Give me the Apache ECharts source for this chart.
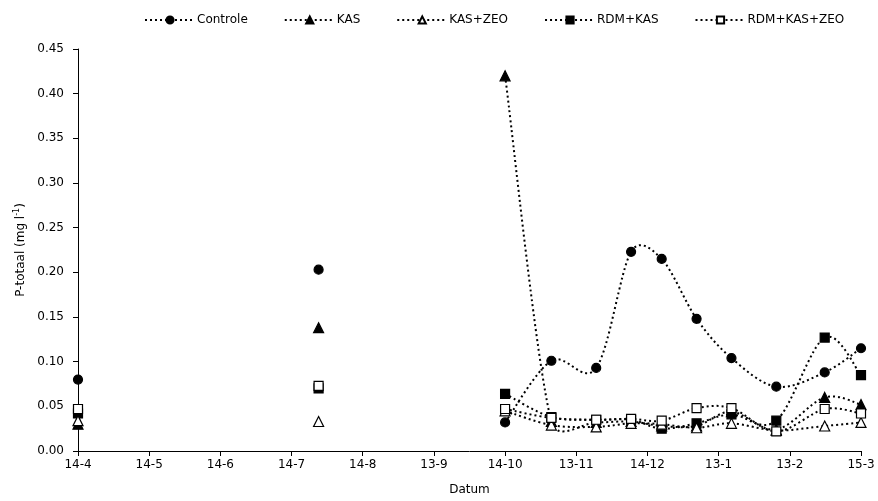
<!DOCTYPE html>
<html>
<head>
<meta charset="utf-8">
<script src="https://cdn.jsdelivr.net/npm/echarts@6/dist/echarts.min.js"></script>
<style>
  html, body { margin: 0; padding: 0; background: #fff; }
  #chart { width: 878px; height: 501px; }
</style>
</head>
<body>
<div id="chart"></div>
<script>
// Axis tick labels (day-month), one per major tick
const tickLabels = ['14-4', '14-5', '14-6', '14-7', '14-8', '13-9', '14-10', '13-11', '14-12', '13-1', '13-2', '15-3'];

// Sampling moments, in tick units; null values below mark breaks in the lines
const sampleX = [0, 1.7, 3.38, 4.7, 6, 6.65, 7.28, 7.77, 8.2, 8.69, 9.18, 9.81, 10.49, 11];

// P-totaal (mg/l) per treatment
const controle   = [0.080, null, 0.203, null, 0.032, 0.101, 0.093, 0.223, 0.215, 0.148, 0.104, 0.072, 0.088, 0.115];
const kas        = [0.030, null, 0.138, null, 0.420, 0.033, 0.032, 0.033, 0.028, 0.028, 0.044, 0.024, 0.060, 0.052];
const kasZeo     = [0.034, null, 0.033, null, 0.045, 0.029, 0.027, 0.031, 0.030, 0.026, 0.031, 0.023, 0.028, 0.032];
const rdmKas     = [0.042, null, 0.070, null, 0.064, 0.038, 0.035, 0.035, 0.025, 0.031, 0.041, 0.034, 0.127, 0.085];
const rdmKasZeo  = [0.047, null, 0.073, null, 0.047, 0.037, 0.035, 0.036, 0.034, 0.048, 0.048, 0.022, 0.047, 0.042];

const FONT = 'DejaVu Sans, Verdana, sans-serif';
const INK = '#000';
const DOTS = [2, 3];

function pairs(values) {
  return sampleX.map((x, i) => [x, values[i] === null ? '-' : values[i]]);
}

// Limit a control-point offset to a share of the segment it belongs to
function capped(vx, vy, segLen, share) {
  const len = Math.hypot(vx, vy);
  const max = segLen * share;
  if (len > max && len > 0) {
    const k = max / len;
    return [vx * k, vy * k];
  }
  return [vx, vy];
}

// Smoothed dotted connector (cardinal spline through the measured points)
function curveSeries(values) {
  return {
    type: 'custom',
    coordinateSystem: 'cartesian2d',
    data: pairs(values),
    silent: true,
    z: 1,
    renderItem: function (params, api) {
      if (params.dataIndex !== 0) return null;
      const runs = [];
      let run = [];
      values.forEach((v, i) => {
        if (v === null) { if (run.length) runs.push(run); run = []; }
        else run.push(api.coord([sampleX[i], v]));
      });
      if (run.length) runs.push(run);
      let d = '';
      const t = 1 / 6;
      const share = 0.5;
      runs.forEach(p => {
        if (p.length < 2) return;
        d += 'M' + p[0][0] + ' ' + p[0][1];
        for (let i = 0; i < p.length - 1; i++) {
          const p0 = p[Math.max(i - 1, 0)], p1 = p[i], p2 = p[i + 1], p3 = p[Math.min(i + 2, p.length - 1)];
          const seg = Math.hypot(p2[0] - p1[0], p2[1] - p1[1]);
          const a = capped((p2[0] - p0[0]) * t, (p2[1] - p0[1]) * t, seg, share);
          const b = capped((p3[0] - p1[0]) * t, (p3[1] - p1[1]) * t, seg, share);
          d += 'C' + (p1[0] + a[0]) + ' ' + (p1[1] + a[1]) + ' ' +
               (p2[0] - b[0]) + ' ' + (p2[1] - b[1]) + ' ' + p2[0] + ' ' + p2[1];
        }
      });
      if (!d) return null;
      return {
        type: 'path',
        shape: { pathData: d },
        style: { fill: 'none', stroke: INK, lineWidth: 2, lineDash: DOTS }
      };
    }
  };
}

// Markers for each measurement (the line itself is drawn by the spline above)
function markerSeries(name, values, symbol, filled) {
  return {
    name: name,
    type: 'line',
    data: pairs(values),
    connectNulls: false,
    symbol: symbol,
    symbolSize: symbol === 'triangle' ? 10 : 9,
    showAllSymbol: true,
    lineStyle: { opacity: 0, width: 0 },
    itemStyle: {
      color: filled ? INK : '#fff',
      borderColor: INK,
      borderWidth: 1.2
    },
    emphasis: { disabled: true },
    z: filled ? 3 : 4
  };
}

const chart = echarts.init(document.getElementById('chart'), null, { renderer: 'canvas' });

chart.setOption({
  animation: false,
  backgroundColor: '#fff',
  textStyle: { fontFamily: FONT, color: INK },
  legend: {
    top: 9,
    left: 139,
    itemWidth: 50,
    itemHeight: 9,
    itemGap: 36,
    lineStyle: { color: INK, width: 2, type: DOTS, opacity: 1 },
    textStyle: { fontFamily: FONT, fontSize: 12, color: INK, padding: [0, 0, 0, -3] },
    data: ['Controle', 'KAS', 'KAS+ZEO', 'RDM+KAS', 'RDM+KAS+ZEO']
  },
  grid: { left: 78, right: 17, top: 49, bottom: 48.5, containLabel: false },
  xAxis: {
    type: 'value',
    min: 0,
    max: 11,
    interval: 1,
    name: 'Datum',
    nameLocation: 'middle',
    nameGap: 33,
    nameTextStyle: { fontFamily: FONT, fontSize: 12, color: INK },
    axisLine: { lineStyle: { color: INK, width: 1 } },
    axisTick: { show: true, inside: false, length: 5, lineStyle: { color: INK } },
    axisLabel: {
      fontFamily: FONT, fontSize: 12, color: INK, margin: 8,
      formatter: v => tickLabels[Math.round(v)] || ''
    },
    splitLine: { show: false }
  },
  yAxis: {
    type: 'value',
    min: 0,
    max: 0.45,
    interval: 0.05,
    name: '{a|P-totaal (mg l}{s|-1}{a|)}',
    nameLocation: 'middle',
    nameGap: 50,
    nameRotate: 90,
    nameTextStyle: {
      rich: {
        a: { fontFamily: FONT, fontSize: 12, color: INK },
        s: { fontFamily: FONT, fontSize: 8, color: INK, verticalAlign: 'top', padding: [0, 0, 6, 0] }
      }
    },
    axisLine: { show: true, lineStyle: { color: INK, width: 1 } },
    axisTick: { show: true, inside: false, length: 5, lineStyle: { color: INK } },
    axisLabel: {
      fontFamily: FONT, fontSize: 12, color: INK, margin: 14,
      formatter: v => v.toFixed(2)
    },
    splitLine: { show: false }
  },
  series: [
    curveSeries(controle),
    curveSeries(kas),
    curveSeries(kasZeo),
    curveSeries(rdmKas),
    curveSeries(rdmKasZeo),
    markerSeries('Controle', controle, 'circle', true),
    markerSeries('KAS', kas, 'triangle', true),
    markerSeries('KAS+ZEO', kasZeo, 'triangle', false),
    markerSeries('RDM+KAS', rdmKas, 'rect', true),
    markerSeries('RDM+KAS+ZEO', rdmKasZeo, 'rect', false)
  ]
});
</script>
</body>
</html>
